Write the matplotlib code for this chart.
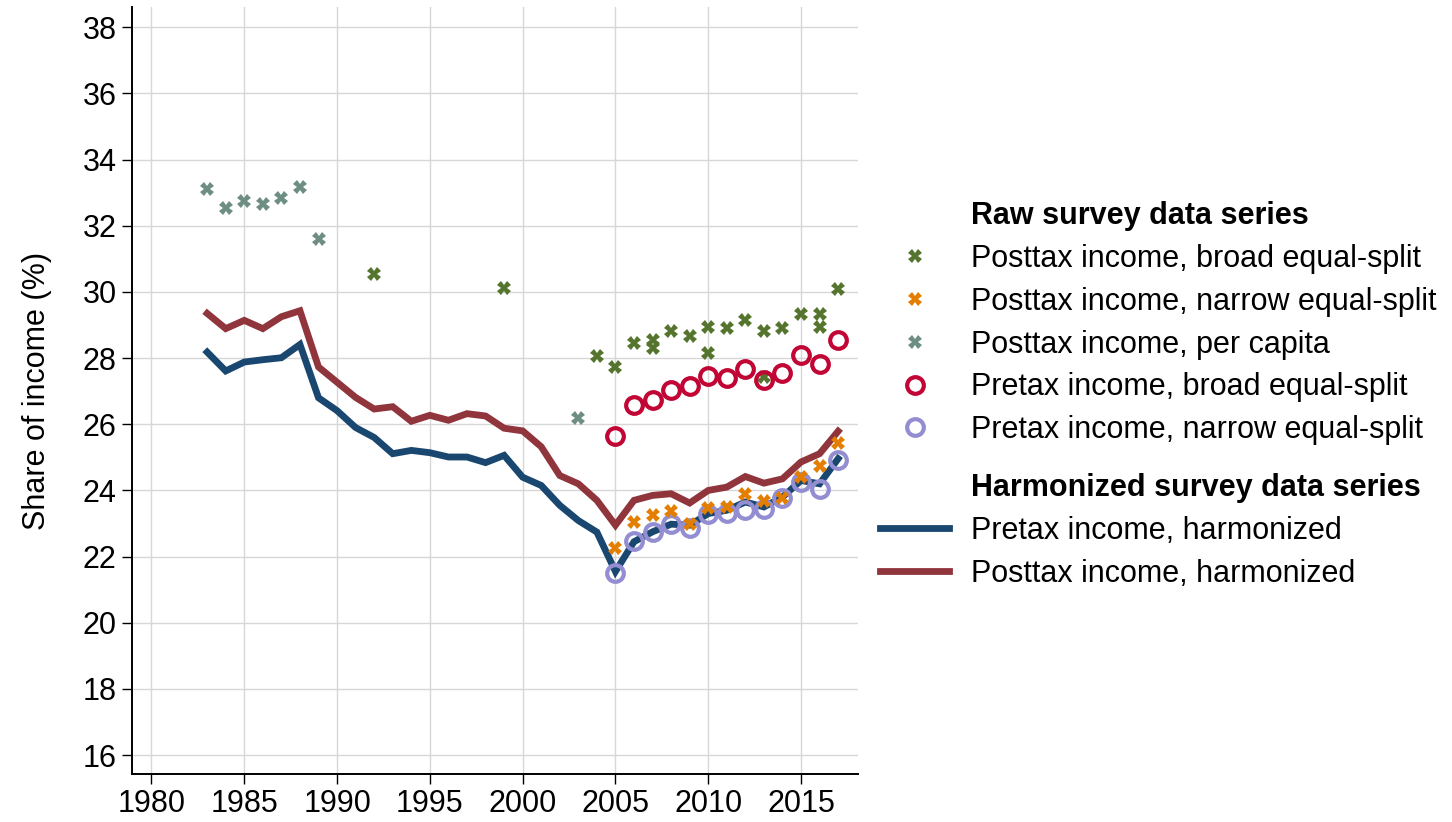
import matplotlib
matplotlib.use("Agg")
import matplotlib.pyplot as plt
from matplotlib.lines import Line2D

plt.rcParams['font.family'] = ['Liberation Sans', 'DejaVu Sans']

# harmonized series, 1983-2017
years_h = list(range(1983, 2018))
pretax_h = [28.18, 27.61, 27.88, 27.95, 28.01, 28.41, 26.80, 26.41, 25.90, 25.60,
            25.11, 25.21, 25.14, 25.01, 25.01, 24.84, 25.06, 24.40, 24.15, 23.55,
            23.09, 22.74, 21.55, 22.45, 22.75, 22.98, 22.95, 23.30, 23.40, 23.65,
            23.50, 23.80, 24.30, 24.20, 24.96]
posttax_h = [29.35, 28.89, 29.14, 28.89, 29.25, 29.43, 27.73, 27.27, 26.81, 26.46,
             26.53, 26.09, 26.27, 26.12, 26.32, 26.25, 25.88, 25.80, 25.32, 24.45,
             24.20, 23.70, 22.95, 23.70, 23.85, 23.90, 23.62, 24.00, 24.10, 24.42,
             24.22, 24.35, 24.86, 25.11, 25.79]

# raw survey points
years_broad = [1992, 1999, 2004, 2005, 2006, 2007, 2007, 2008, 2009, 2010, 2010,
               2011, 2012, 2013, 2013, 2014, 2015, 2016, 2016, 2017]
posttax_broad = [30.53, 30.13, 28.05, 27.72, 28.46, 28.56, 28.30, 28.83, 28.68, 28.93, 28.15,
                 28.90, 29.15, 28.83, 27.42, 28.91, 29.33, 29.33, 28.93, 30.08]

years_narrow = list(range(2005, 2018))
posttax_narrow = [22.26, 23.05, 23.25, 23.38, 23.00, 23.48, 23.50, 23.88, 23.68, 23.78,
                  24.40, 24.73, 25.43]

years_pc = [1983, 1984, 1985, 1986, 1987, 1988, 1989, 2003]
posttax_pc = [33.10, 32.55, 32.75, 32.65, 32.85, 33.18, 31.61, 26.18]

pretax_broad = [25.64, 26.59, 26.74, 27.04, 27.17, 27.47, 27.39, 27.67, 27.34, 27.54,
                28.08, 27.82, 28.56]
pretax_narrow = [21.49, 22.47, 22.74, 22.98, 22.87, 23.30, 23.33, 23.40, 23.45, 23.78,
                 24.25, 24.05, 24.93]

navy = '#1a476f'
maroon = '#90353b'
green = '#55752f'
orange = '#e37e00'
teal = '#6e8e84'
cranberry = '#c10534'
lavender = '#938dd2'

fig = plt.figure(figsize=(14.52, 8.22), dpi=100)
ax = fig.add_axes([132 / 1452, 1 - 774 / 822, (858 - 132) / 1452, (774 - 7) / 822])

ax.plot(years_h, pretax_h, color=navy, lw=4.9, zorder=3, solid_joinstyle='miter')
ax.plot(years_h, posttax_h, color=maroon, lw=4.9, zorder=3, solid_joinstyle='miter')

xkw = dict(linestyle='none', marker='X', markersize=10, markeredgewidth=0, zorder=4)
okw = dict(linestyle='none', marker='o', markersize=12, markerfacecolor='none',
           markeredgewidth=3, zorder=4)
ax.plot(years_pc, posttax_pc, color=teal, **xkw)
ax.plot(years_broad, posttax_broad, color=green, **xkw)
ax.plot(years_narrow, pretax_broad, color=cranberry, **okw)
ax.plot(years_narrow, pretax_narrow, color=lavender, **okw)
ax.plot(years_narrow, posttax_narrow, color=orange, **xkw)

ax.set_xlim(1978.95, 2018.07)
ax.set_ylim(15.43, 38.61)
ax.set_xticks(range(1980, 2016, 5))
ax.set_yticks(range(16, 39, 2))
ax.grid(True, color='#d7d7d7', lw=1)
ax.set_axisbelow(True)
for s in ('top', 'right'):
    ax.spines[s].set_visible(False)
for s in ('left', 'bottom'):
    ax.spines[s].set_linewidth(1.4)
ax.tick_params(labelsize=22, length=7, width=1, direction='out', pad=4)
ax.set_ylabel('Share of income (%)', fontsize=22, labelpad=22)

blank = Line2D([], [], linestyle='none')
raw_handles = [blank,
               Line2D([], [], color=green, **xkw),
               Line2D([], [], color=orange, **xkw),
               Line2D([], [], color=teal, **xkw),
               Line2D([], [], color=cranberry, **okw),
               Line2D([], [], color=lavender, **okw)]
raw_labels = ['Raw survey data series',
              'Posttax income, broad equal-split',
              'Posttax income, narrow equal-split',
              'Posttax income, per capita',
              'Pretax income, broad equal-split',
              'Pretax income, narrow equal-split']
harm_handles = [blank,
                Line2D([], [], color=navy, lw=4.9),
                Line2D([], [], color=maroon, lw=4.9)]
harm_labels = ['Harmonized survey data series',
               'Pretax income, harmonized',
               'Posttax income, harmonized']

legkw = dict(loc='upper left', frameon=False, fontsize=22, borderpad=0, borderaxespad=0,
             handlelength=2.27, handletextpad=0.71, labelspacing=0.42,
             bbox_transform=fig.transFigure)
leg1 = ax.legend(raw_handles, raw_labels, bbox_to_anchor=(880 / 1452, 1 - 201 / 822), **legkw)
leg1.get_texts()[0].set_fontweight('bold')
ax.add_artist(leg1)
leg2 = ax.legend(harm_handles, harm_labels, bbox_to_anchor=(880 / 1452, 1 - 473 / 822), **legkw)
leg2.get_texts()[0].set_fontweight('bold')

fig.savefig('out.png', dpi=100)
